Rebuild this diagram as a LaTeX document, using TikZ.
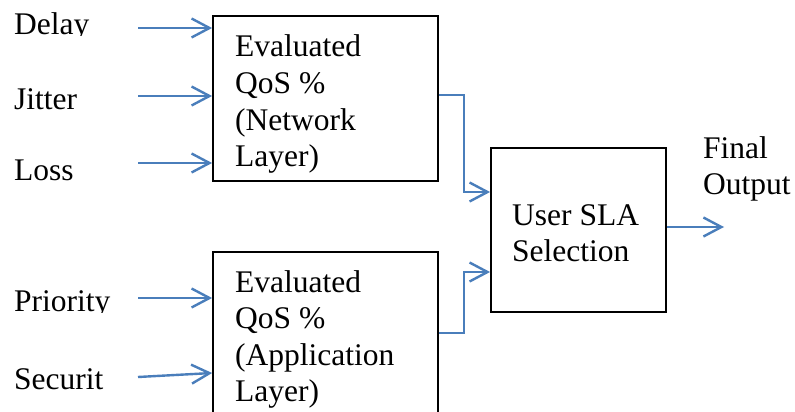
\documentclass[tikz,border=0pt]{standalone}
\usepackage{fontspec}
\setmainfont{Liberation Serif}
\usetikzlibrary{arrows.meta}
\definecolor{flowblue}{HTML}{4A7EBB}
\tikzset{
  block/.style={draw=black, line width=1.8pt, rectangle, inner sep=0pt},
  flow/.style={draw=flowblue, line width=2.4pt,
    -{Straight Barb[length=18pt,width=19pt,line width=2.4pt]}},
  lbl/.style={anchor=base west, inner sep=0pt, align=left,
    font=\fontsize{31.5}{36.5}\selectfont},
}
\begin{document}
\begin{tikzpicture}[x=1pt,y=-1pt]
\clip (0,0) rectangle (795,412);
\fill[white] (0,0) rectangle (795,412);

% processing blocks
\node[block, minimum width=225pt, minimum height=165pt] (b1) at (325.5,98.5) {};
\node[block, minimum width=225pt, minimum height=165pt] (b2) at (325.5,334.5) {};
\node[block, minimum width=175pt, minimum height=164pt] (b3) at (578.5,230) {};

% block captions
\node[lbl] (t1a) at (235,57)  {Evaluated};
\node[lbl] (t1b) at (235,93.5)  {QoS \%};
\node[lbl] (t1c) at (235,130) {(Network};
\node[lbl] (t1d) at (235,166.5) {Layer)};
\node[lbl] (t2a) at (235,292) {Evaluated};
\node[lbl] (t2b) at (235,328.5) {QoS \%};
\node[lbl] (t2c) at (235,365) {(Application};
\node[lbl] (t2d) at (235,401.5) {Layer)};
\node[lbl] (t3a) at (512,225) {User SLA};
\node[lbl] (t3b) at (512,261.5) {Selection};
\node[lbl] (t4a) at (703,158) {Final};
\node[lbl] (t4b) at (703,194.5) {Output};

% input labels (text frames cut at the baseline)
\begin{scope}
  \clip (0,0) rectangle (130,36);
  \node[lbl] (lDelay) at (14,35) {Delay};
\end{scope}
\node[lbl] (lJitter) at (14,109) {Jitter};
\node[lbl] (lLoss) at (14,180) {Loss};
\begin{scope}
  \clip (0,270) rectangle (130,312);
  \node[lbl] (lPrio) at (14,311) {Priority};
\end{scope}
\node[lbl] (lSec) at (14,389) {Securit};

% input arrow start points
\coordinate (i1) at (138,28);
\coordinate (i2) at (138,96);
\coordinate (i3) at (138,163);
\coordinate (i4) at (138,298);
\coordinate (i5) at (138,377);
\coordinate (out) at (724,227);

% inputs
\draw[flow] (i1) -- (i1 -| b1.west);
\draw[flow] (i2) -- (i2 -| b1.west);
\draw[flow] (i3) -- (i3 -| b1.west);
\draw[flow] (i4) -- (i4 -| b2.west);
\draw[flow] (i5) -- ([yshift=-38.5pt]b2.west);

% blocks to selection
\draw[flow] ([yshift=3.5pt]b1.east) -- ++(25,0) |- ([yshift=38pt]b3.west);
\draw[flow] ([yshift=1.5pt]b2.east) -- ++(25,0) |- ([yshift=-42pt]b3.west);

% output
\draw[flow] ([yshift=3pt]b3.east) -- (out);
\end{tikzpicture}
\end{document}
